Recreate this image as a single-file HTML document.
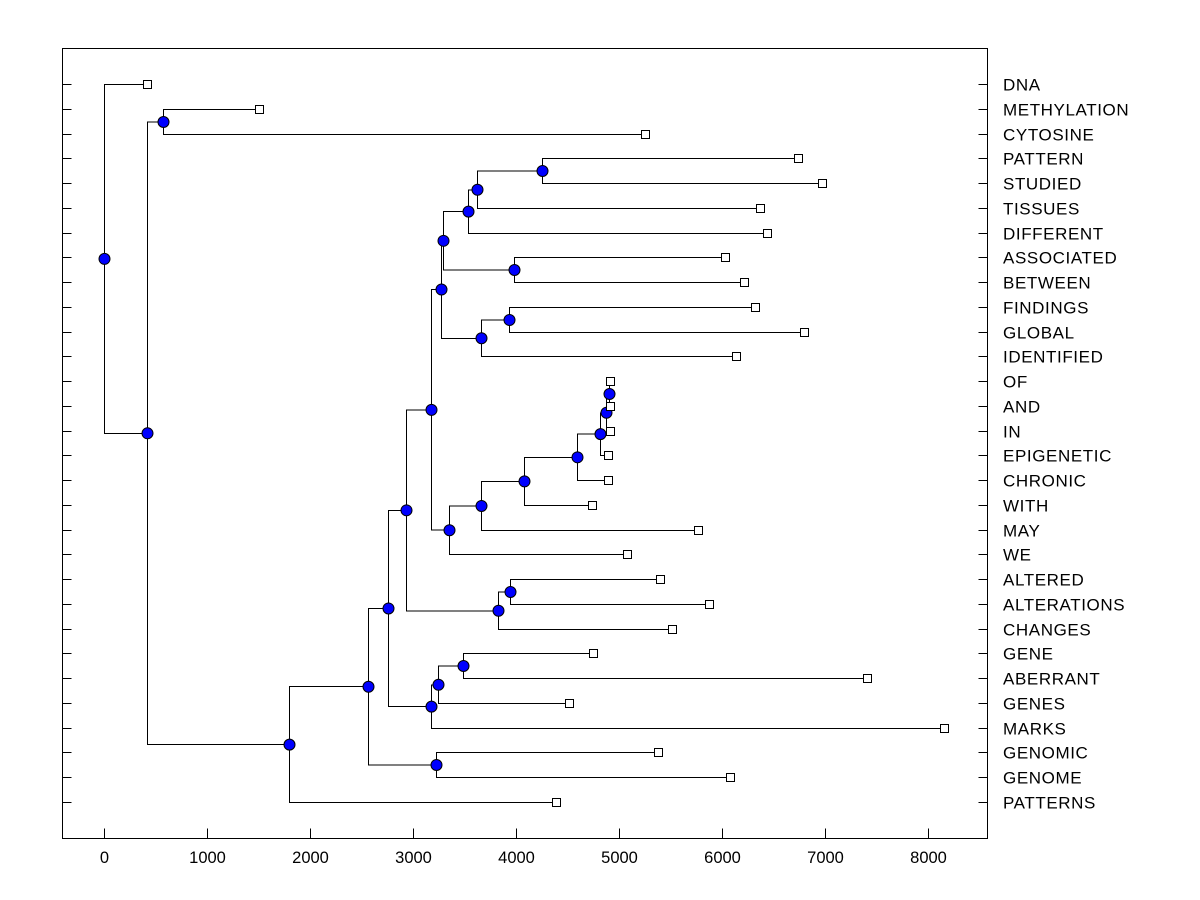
<!DOCTYPE html>
<html><head><meta charset="utf-8"><style>
body{margin:0;background:#fff}
svg{display:block;font-family:"Liberation Sans",Arial,sans-serif}
</style></head><body>
<svg id="c" width="1200" height="900"></svg>
<script>
const labels=["DNA","METHYLATION","CYTOSINE","PATTERN","STUDIED","TISSUES","DIFFERENT","ASSOCIATED","BETWEEN","FINDINGS","GLOBAL","IDENTIFIED","OF","AND","IN","EPIGENETIC","CHRONIC","WITH","MAY","WE","ALTERED","ALTERATIONS","CHANGES","GENE","ABERRANT","GENES","MARKS","GENOMIC","GENOME","PATTERNS"];
const leafValues=[420,1506,5257,6744,6978,6375,6443,6035,6220,6327,6803,6142,4917,4917,4917,4898,4898,4742,5773,5083,5403,5880,5520,4752,7415,4519,8163,5384,6084,4393];
// internal nodes: [height, childA, childB]; children: leaf index (number) or "n<k>"
const nodeHeights={n0:0,n1:418,n2:1798,n3:2566,n4:2760,n5:2935,n6:3178,n7:3246,n8:3489,n9:3178,n10:3829,n11:3945,n12:3275,n13:3353,n14:3664,n15:4082,n16:4597,n17:4820,n18:4879,n19:4908,n20:3294,n21:3664,n22:3936,n23:3537,n24:3984,n25:3625,n26:4257,mc:573,gg:3226};
const nodeChildren={n0:[0,"n1"],n1:["mc","n2"],mc:[1,2],n2:["n3",29],n3:["n4","gg"],gg:[27,28],n4:["n5","n6"],n6:["n7",26],n7:["n8",25],n8:[23,24],n5:["n9","n10"],n10:["n11",22],n11:[20,21],n9:["n12","n13"],n13:["n14",19],n14:["n15",18],n15:["n16",17],n16:["n17",16],n17:["n18",15],n18:["n19",14],n19:[12,13],n12:["n20","n21"],n21:["n22",11],n22:[9,10],n20:["n23","n24"],n24:[7,8],n23:["n25",6],n25:["n26",5],n26:[3,4]};
const xTicks=[0,1000,2000,3000,4000,5000,6000,7000,8000];

const NS="http://www.w3.org/2000/svg",svg=document.getElementById("c");
const L=62.5,R=987.5,T=48.5,B=838.5;
const X=v=>Math.round(104+v*0.10294)+0.5;
const Y=i=>Math.round(84+i*(802-84)/(labels.length-1))+0.5;
function mk(t,a,p){const e=document.createElementNS(NS,t);for(const k in a)e.setAttribute(k,a[k]);(p||svg).appendChild(e);return e;}
const axes=mk("g",{"shape-rendering":"crispEdges"});


const fr=mk("rect",{x:L,y:T,width:R-L,height:B-T,fill:"none",stroke:"#000","stroke-width":1},axes);


xTicks.forEach(v=>{
 const t=mk("line",{x1:X(v),x2:X(v),y1:B,y2:B-10,stroke:"#000"},axes);
 
 
 const tx=mk("text",{x:X(v),y:863,"text-anchor":"middle","font-size":16.5,"shape-rendering":"auto"},axes);tx.textContent=v;
 
 
});
labels.forEach((s,i)=>{
 const y=Y(i);
 const a=mk("line",{x1:L,x2:L+9,y1:y,y2:y,stroke:"#000"},axes);
 
 
 const b=mk("line",{x1:R,x2:R-9,y1:y,y2:y,stroke:"#000"},axes);
 
 
 const t=mk("text",{x:1003,y:y+6,"font-size":17,"letter-spacing":0.6},axes);t.textContent=s;
 
 
});
const lines=mk("g",{stroke:"#000","stroke-width":1,fill:"none","shape-rendering":"crispEdges"}),marks=mk("g",{});




function pos(c){
 if(typeof c==="number") return {x:X(leafValues[c]),y:Y(c)};
 const [a,b]=nodeChildren[c];const pa=pos(a),pb=pos(b);
 const x=X(nodeHeights[c]),y=(pa.y+pb.y)/2;
 const p=mk("path",{d:`M${pa.x},${pa.y}H${x}V${pb.y}H${pb.x}`},lines);
 
 
 const ci=mk("circle",{cx:x,cy:y,r:5.5,fill:"#0000ff",stroke:"#000","stroke-width":1},marks);
 
 
 return {x,y};
}
pos("n0");
leafValues.forEach((v,i)=>{
 const r=mk("rect",{x:X(v)-4,y:Y(i)-4,width:8,height:8,fill:"#fff",stroke:"#000","shape-rendering":"crispEdges"},marks);
 
 
});
</script>
</body></html>
